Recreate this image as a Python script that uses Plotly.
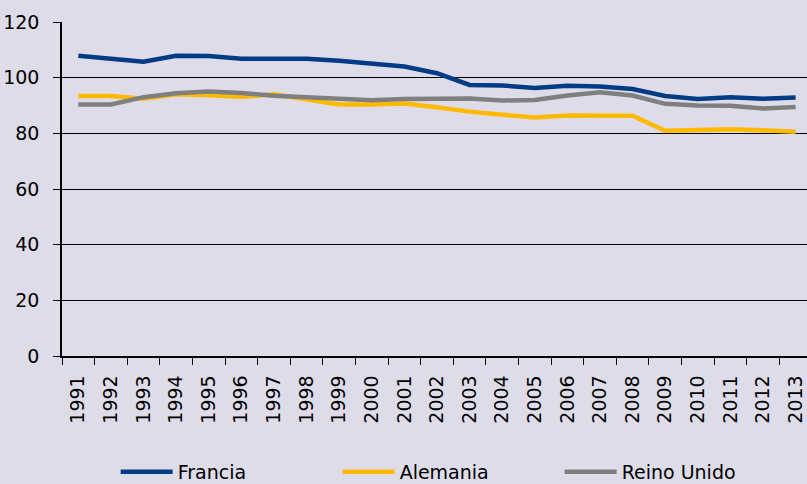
import plotly.graph_objects as go

years = [str(y) for y in range(1991, 2014)]
francia = [107.9, 106.8, 105.7, 107.9, 107.8, 106.8, 106.8, 106.8, 106.1, 105.1, 104.0, 101.6,
           97.4, 97.2, 96.3, 97.1, 96.8, 95.9, 93.4, 92.3, 93.0, 92.4, 92.9]
alemania = [93.4, 93.4, 92.4, 94.0, 93.7, 93.1, 94.0, 92.0, 90.4, 90.4, 90.7, 89.4,
            87.8, 86.7, 85.7, 86.4, 86.3, 86.3, 80.9, 81.1, 81.5, 81.1, 80.6]
reino_unido = [90.4, 90.4, 93.0, 94.4, 95.0, 94.5, 93.5, 92.9, 92.1, 91.9, 92.3, 92.3,
               92.5, 91.8, 92.0, 93.6, 94.8, 93.6, 90.6, 90.0, 89.9, 88.9, 89.5]

series = [("Francia", francia, "#003c86"),
          ("Alemania", alemania, "#ffba00"),
          ("Reino Unido", reino_unido, "#7f7f7f")]

fig = go.Figure()
for name, vals, col in series:
    fig.add_trace(go.Scatter(x=years, y=vals, name=name, mode="lines",
                             line=dict(color=col, width=4.5)))

bg = "#dfdcea"
fig.update_layout(
    width=807, height=484,
    paper_bgcolor=bg, plot_bgcolor=bg,
    margin=dict(l=62, r=0, t=22, b=128, autoexpand=False),
    font=dict(family="DejaVu Sans", size=19, color="#000000"),
    showlegend=True,
    legend=dict(orientation="h", x=0.072, xanchor="left",
                yref="container", y=0.025, yanchor="middle",
                entrywidth=155, itemwidth=52, font=dict(size=19), bgcolor="rgba(0,0,0,0)",
                traceorder="normal"),
)
fig.update_xaxes(type="category", range=[-0.5, 22.35], tickangle=-90,
                 showline=True, linecolor="#000", linewidth=1.5,
                 ticks="outside", tickson="boundaries", ticklen=7, tickcolor="#000",
                 ticklabelstandoff=10,
                 showgrid=False, tickfont=dict(size=19))
fig.update_yaxes(range=[0, 120], dtick=20, showline=True, linecolor="#000", linewidth=1.5,
                 ticks="outside", ticklen=7, tickcolor="#000", ticklabelstandoff=10,
                 showgrid=True, gridcolor="#000", gridwidth=1, zeroline=False,
                 tickfont=dict(size=19))

fig.write_html("out.html", config={"displayModeBar": False},
               post_script="document.body.style.margin='0';")
